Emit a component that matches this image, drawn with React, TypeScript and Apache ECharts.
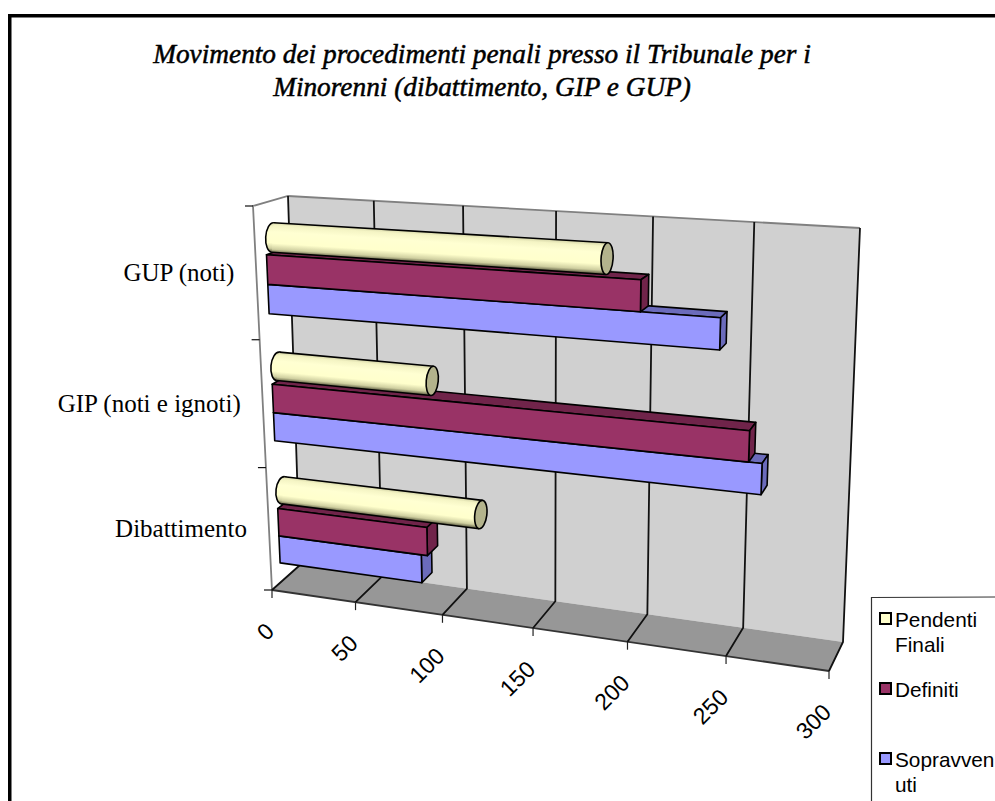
import React, { useEffect, useRef } from "react";
import * as echarts from "echarts";

const titleLines = ["Movimento dei procedimenti penali presso il Tribunale per i", "Minorenni (dibattimento, GIP e GUP)"];
const categories = ["Dibattimento", "GIP (noti e ignoti)", "GUP (noti)"];
const valueTicks = [0, 50, 100, 150, 200, 250, 300];
const sopravvenuti = [84, 262, 240];
const definiti = [87.5, 255.5, 201];
const pendentiFinali = [115, 89, 182];
const legendLabels = ["Pendenti\nFinali", "Definiti", "Sopravven\nuti"];
const legendColors = ["#FFFFCC", "#993366", "#9999FF"];

type Pt = [number, number];

function makeHomography(p00: Pt, p10: Pt, p11: Pt, p01: Pt) {
  const dx1 = p10[0] - p11[0], dx2 = p01[0] - p11[0], sx = p00[0] - p10[0] + p11[0] - p01[0];
  const dy1 = p10[1] - p11[1], dy2 = p01[1] - p11[1], sy = p00[1] - p10[1] + p11[1] - p01[1];
  const den = dx1 * dy2 - dx2 * dy1;
  const g = (sx * dy2 - dx2 * sy) / den;
  const h = (dx1 * sy - sx * dy1) / den;
  const a = p10[0] - p00[0] + g * p10[0], b = p01[0] - p00[0] + h * p01[0], c = p00[0];
  const d = p10[1] - p00[1] + g * p10[1], e = p01[1] - p00[1] + h * p01[1], f = p00[1];
  return (s: number, t: number): Pt => {
    const q = g * s + h * t + 1;
    return [(a * s + b * t + c) / q, (d * s + e * t + f) / q];
  };
}

const frontPlane = makeHomography([272, 590], [829, 671], [851, 238], [253, 206]);
const backPlane = makeHomography([300, 565], [843, 642], [860, 228], [288, 196]);

function proj(u: number, v: number, w: number): Pt {
  const f = frontPlane(u, v), b = backPlane(u, v);
  return [f[0] + (b[0] - f[0]) * w, f[1] + (b[1] - f[1]) * w];
}

const DEPTH_NEAR = 0.32;
const DEPTH_FAR = 0.72;
const SLOTS = [[0.16, 0.385], [0.385, 0.61], [0.61, 0.835]];
const DARK = "#000000";

function unitU(api: any, params: any, val: number) {
  const cs = params.coordSys;
  return (api.coord([val, 0])[0] - cs.x) / cs.width;
}
function unitV(api: any, params: any, cat: number, frac: number) {
  const cs = params.coordSys;
  const band = api.size([0, 1])[1];
  const top = api.coord([0, cat])[1] - band / 2;
  const y = top + (1 - frac) * band;
  return 1 - (y - cs.y) / cs.height;
}

function boxRenderer(slot: number[], front: string, shade: string) {
  return (params: any, api: any) => {
    const cat = api.value(1);
    const u = unitU(api, params, api.value(0));
    const v0 = unitV(api, params, cat, slot[0]);
    const v1 = unitV(api, params, cat, slot[1]);
    const style = (fill: string) => ({ fill, stroke: DARK, lineWidth: 1.6, lineJoin: "round" });
    return {
      type: "group",
      children: [
        { type: "polygon", shape: { points: [proj(0, v1, DEPTH_NEAR), proj(u, v1, DEPTH_NEAR), proj(u, v1, DEPTH_FAR), proj(0, v1, DEPTH_FAR)] }, style: style(shade) },
        { type: "polygon", shape: { points: [proj(u, v0, DEPTH_NEAR), proj(u, v0, DEPTH_FAR), proj(u, v1, DEPTH_FAR), proj(u, v1, DEPTH_NEAR)] }, style: style(shade) },
        { type: "polygon", shape: { points: [proj(0, v0, DEPTH_NEAR), proj(u, v0, DEPTH_NEAR), proj(u, v1, DEPTH_NEAR), proj(0, v1, DEPTH_NEAR)] }, style: style(front) },
      ],
    };
  };
}

function cylinderRenderer(slot: number[]) {
  return (params: any, api: any) => {
    const cat = api.value(1);
    const u = unitU(api, params, api.value(0));
    const v0 = unitV(api, params, cat, slot[0]);
    const v1 = unitV(api, params, cat, slot[1]);
    const vc = (v0 + v1) / 2;
    const wc = (DEPTH_NEAR + DEPTH_FAR) / 2;
    const A = proj(0, vc, wc), B = proj(u, vc, wc);
    const rA = Math.hypot(proj(0, v1, wc)[0] - proj(0, v0, wc)[0], proj(0, v1, wc)[1] - proj(0, v0, wc)[1]) / 2;
    const rB = Math.hypot(proj(u, v1, wc)[0] - proj(u, v0, wc)[0], proj(u, v1, wc)[1] - proj(u, v0, wc)[1]) / 2;
    const eA = 7;
    const eB = 6;
    const L = Math.hypot(B[0] - A[0], B[1] - A[1]);
    const angle = Math.atan2(B[1] - A[1], B[0] - A[0]);
    const grad = () => new echarts.graphic.LinearGradient(0, 0, 0, 1, [
      { offset: 0, color: "#CFCFA2" },
      { offset: 0.12, color: "#F4F4C4" },
      { offset: 0.32, color: "#FFFFD2" },
      { offset: 0.68, color: "#FFFFCC" },
      { offset: 0.87, color: "#CFCFA0" },
      { offset: 1, color: "#56563C" },
    ]);
    return {
      type: "group",
      x: A[0],
      y: A[1],
      rotation: -angle,
      children: [
        { type: "ellipse", shape: { cx: 0, cy: 0, rx: eA, ry: rA }, style: { fill: grad(), stroke: DARK, lineWidth: 1.6 } },
        { type: "polygon", shape: { points: [[0, -rA], [L, -rB], [L, rB], [0, rA]] }, style: { fill: grad(), stroke: null } },
        { type: "line", shape: { x1: 0, y1: -rA, x2: L, y2: -rB }, style: { stroke: DARK, lineWidth: 1.6 } },
        { type: "line", shape: { x1: 0, y1: rA, x2: L, y2: rB }, style: { stroke: DARK, lineWidth: 1.6 } },
        { type: "ellipse", shape: { cx: L, cy: 0, rx: eB, ry: rB }, style: { fill: "#B3B38C", stroke: DARK, lineWidth: 1.6 } },
      ],
    };
  };
}

function renderWalls() {
  return {
    type: "group",
    children: [
      { type: "polygon", shape: { points: [proj(0, 0, 1), proj(1, 0, 1), proj(1, 1, 1), proj(0, 1, 1)] }, style: { fill: "#D0D0D0", stroke: null } },
      { type: "polygon", shape: { points: [proj(0, 0, 0), proj(1, 0, 0), proj(1, 0, 1), proj(0, 0, 1)] }, style: { fill: "#979797", stroke: null } },
      { type: "polyline", shape: { points: [proj(0, 0, 0), proj(0, 1, 0), proj(0, 1, 1), proj(1, 1, 1)] }, style: { stroke: "#808080", lineWidth: 1.8, fill: null } },
      { type: "line", shape: { x1: proj(0, 0, 0)[0], y1: proj(0, 0, 0)[1], x2: proj(1, 0, 0)[0], y2: proj(1, 0, 0)[1] }, style: { stroke: "#333333", lineWidth: 1.8 } },
      { type: "line", shape: { x1: proj(0, 0, 0)[0], y1: proj(0, 0, 0)[1], x2: proj(0, 0, 1)[0], y2: proj(0, 0, 1)[1] }, style: { stroke: "#555555", lineWidth: 1 } },
    ],
  };
}

function renderValueTick(params: any, api: any) {
  const val = api.value(0);
  const u = unitU(api, params, val);
  const a = proj(u, 0, 0), b = proj(u, 0, 1), c = proj(u, 1, 1);
  return {
    type: "group",
    children: [
      { type: "polyline", shape: { points: [a, b, c] }, style: { stroke: "#111111", lineWidth: 1.8, fill: null } },
      { type: "line", shape: { x1: a[0], y1: a[1], x2: a[0], y2: a[1] + 8 }, style: { stroke: "#222222", lineWidth: 1.2 } },
      {
        type: "text", x: a[0] - 2, y: a[1] + 37, rotation: Math.PI / 4,
        style: { text: String(val), textAlign: "right", textVerticalAlign: "middle", fontFamily: "Liberation Sans", fontSize: 23, fill: "#000" },
      },
    ],
  };
}

function renderCategoryTick(params: any, api: any) {
  const cat = api.value(1);
  const vTop = unitV(api, params, cat, 1);
  const vMid = unitV(api, params, cat, 0.5);
  const t = proj(0, vTop, 0), m = proj(0, vMid, 0);
  const ticks = [
    { type: "line", shape: { x1: t[0] - 8, y1: t[1], x2: t[0], y2: t[1] }, style: { stroke: "#111111", lineWidth: 1.2 } },
  ];
  if (cat === 0) {
    const b = proj(0, 0, 0);
    ticks.push({ type: "line", shape: { x1: b[0] - 8, y1: b[1], x2: b[0], y2: b[1] }, style: { stroke: "#111111", lineWidth: 1.2 } });
  }
  return {
    type: "group",
    children: [
      ...ticks,
      {
        type: "text", x: m[0] - 22, y: m[1] - 1,
        style: { text: categories[cat], textAlign: "right", textVerticalAlign: "middle", fontFamily: "Liberation Serif", fontSize: 25, fill: "#000" },
      },
    ],
  };
}

const legendYs = [613, 683, 753];

export default function App() {
  const ref = useRef<HTMLDivElement>(null);
  useEffect(() => {
    const chart = echarts.init(ref.current!, null, { renderer: "svg" });
    const pairs = (vals: number[]) => vals.map((v, i) => [v, i]);
    chart.setOption({
      animation: false,
      backgroundColor: "#FFFFFF",
      title: {
        text: titleLines.join("\n"),
        left: 477,
        top: 32,
        textAlign: "center",
        textStyle: { fontFamily: "Liberation Serif", fontStyle: "italic", fontWeight: "normal", fontSize: 27.3, lineHeight: 33, color: "#000", textBorderColor: "#000", textBorderWidth: 0.5 },
      },
      grid: { left: 100, right: 100, top: 100, bottom: 100 },
      xAxis: { type: "value", min: 0, max: 300, interval: 50, show: false },
      yAxis: { type: "category", data: categories, show: false },
      series: [
        { type: "custom", name: "walls", silent: true, clip: false, z: 1, data: [[0, 0]], encode: { x: 0, y: 1 }, renderItem: renderWalls },
        { type: "custom", name: "valueTicks", silent: true, clip: false, z: 2, data: valueTicks.map((v) => [v, 0]), encode: { x: 0, y: 1 }, renderItem: renderValueTick },
        { type: "custom", name: "categoryTicks", silent: true, clip: false, z: 2, data: categories.map((_, i) => [0, i]), encode: { x: 0, y: 1 }, renderItem: renderCategoryTick },
        { type: "custom", name: "Sopravvenuti", silent: true, clip: false, z: 3, data: pairs(sopravvenuti), encode: { x: 0, y: 1 }, renderItem: boxRenderer(SLOTS[0], "#9999FF", "#6B6BBB") },
        { type: "custom", name: "Definiti", silent: true, clip: false, z: 4, data: pairs(definiti), encode: { x: 0, y: 1 }, renderItem: boxRenderer(SLOTS[1], "#993366", "#70244A") },
        { type: "custom", name: "Pendenti Finali", silent: true, clip: false, z: 5, data: pairs(pendentiFinali), encode: { x: 0, y: 1 }, renderItem: cylinderRenderer(SLOTS[2]) },
      ],
      graphic: [
        { type: "rect", shape: { x: 8, y: 14, width: 995, height: 3.5 }, style: { fill: "#000" } },
        { type: "rect", shape: { x: 8, y: 14, width: 3.5, height: 800 }, style: { fill: "#000" } },
        { type: "polyline", shape: { points: [[995, 597], [871.5, 597.5], [871.5, 801]] }, style: { stroke: "#333", lineWidth: 1.2, fill: null } },
        ...legendLabels.flatMap((label, i) => [
          { type: "rect", shape: { x: 880, y: legendYs[i], width: 11, height: 11 }, style: { fill: legendColors[i], stroke: "#000", lineWidth: 2 } },
          { type: "text", x: 895, y: legendYs[i] - 6, style: { text: label, fontFamily: "Liberation Sans", fontSize: 20.8, lineHeight: 25, fill: "#000", textAlign: "left", textVerticalAlign: "top" } },
        ]),
      ],
    });
    return () => chart.dispose();
  }, []);
  return <div ref={ref} style={{ position: "fixed", left: 0, top: 0, width: 995, height: 801 }} />;
}
